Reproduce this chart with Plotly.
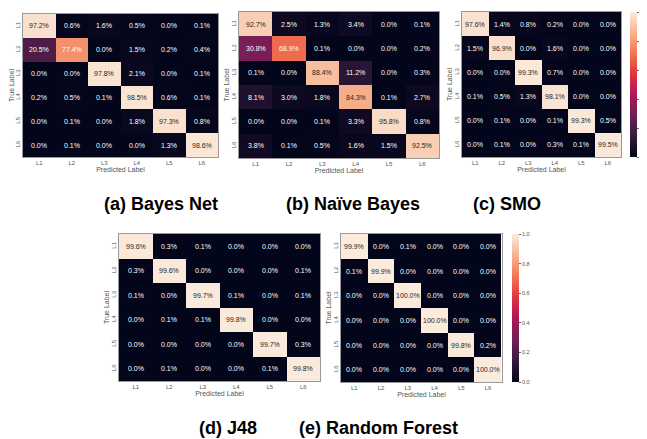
import plotly.graph_objects as go

labels = ["L1", "L2", "L3", "L4", "L5", "L6"]

bayes_net = [
    [97.2, 0.6, 1.6, 0.5, 0.0, 0.1],
    [20.5, 77.4, 0.0, 1.5, 0.2, 0.4],
    [0.0, 0.0, 97.8, 2.1, 0.0, 0.1],
    [0.2, 0.5, 0.1, 98.5, 0.6, 0.1],
    [0.0, 0.1, 0.0, 1.8, 97.3, 0.8],
    [0.0, 0.1, 0.0, 0.0, 1.3, 98.6],
]
naive_bayes = [
    [92.7, 2.5, 1.3, 3.4, 0.0, 0.1],
    [30.8, 68.9, 0.1, 0.0, 0.0, 0.2],
    [0.1, 0.0, 88.4, 11.2, 0.0, 0.3],
    [8.1, 3.0, 1.8, 84.3, 0.1, 2.7],
    [0.0, 0.0, 0.1, 3.3, 95.8, 0.8],
    [3.8, 0.1, 0.5, 1.6, 1.5, 92.5],
]
smo = [
    [97.6, 1.4, 0.8, 0.2, 0.0, 0.0],
    [1.5, 96.9, 0.0, 1.6, 0.0, 0.0],
    [0.0, 0.0, 99.3, 0.7, 0.0, 0.0],
    [0.1, 0.5, 1.3, 98.1, 0.0, 0.0],
    [0.0, 0.1, 0.0, 0.1, 99.3, 0.5],
    [0.0, 0.1, 0.0, 0.3, 0.1, 99.5],
]
j48 = [
    [99.6, 0.3, 0.1, 0.0, 0.0, 0.0],
    [0.3, 99.6, 0.0, 0.0, 0.0, 0.1],
    [0.1, 0.0, 99.7, 0.1, 0.0, 0.1],
    [0.0, 0.1, 0.1, 99.8, 0.0, 0.0],
    [0.0, 0.0, 0.0, 0.0, 99.7, 0.3],
    [0.0, 0.1, 0.0, 0.0, 0.1, 99.8],
]
random_forest = [
    [99.9, 0.0, 0.1, 0.0, 0.0, 0.0],
    [0.1, 99.9, 0.0, 0.0, 0.0, 0.0],
    [0.0, 0.0, 100.0, 0.0, 0.0, 0.0],
    [0.0, 0.0, 0.0, 100.0, 0.0, 0.0],
    [0.0, 0.0, 0.0, 0.0, 99.8, 0.2],
    [0.0, 0.0, 0.0, 0.0, 0.0, 100.0],
]

captions = ["(a) Bayes Net", "(b) Naïve Bayes", "(c) SMO", "(d) J48", "(e) Random Forest"]
matrices = [bayes_net, naive_bayes, smo, j48, random_forest]
colorbar_ticks = [0, 0.2, 0.4, 0.6, 0.8, 1.0]

rocket_hex = ["#03051a", "#35193e", "#701f57", "#ad1759", "#e13342", "#f37651", "#f6b48f", "#faebdd"]
rocket = [[i / 7, c] for i, c in enumerate(rocket_hex)]

# The page body has an 8px margin: the figure starts at (8, 8) in the window.
OFF = 8
W, H = 647 - OFF, 439 - OFF
boxes = [
    (23, 218, 14, 157),
    (239, 439, 12, 158),
    (462, 621, 12, 157),
    (119, 320, 234, 381),
    (341, 502, 234, 382),
]
cbars = {2: (630, 12, 157), 4: (512, 234, 382)}
CB_THICK = 7
caption_x = [161, 353, 507, 228, 378]
caption_y = [204, 204, 204, None, None]


def px(x):
    return (x - OFF) / W


def py(y):
    return 1 - (y - OFF) / H


def hex2rgb(h):
    h = h.lstrip("#")
    return [int(h[i:i + 2], 16) for i in (0, 2, 4)]


def color_at(v):
    v = max(0, min(1, v))
    for i in range(len(rocket) - 1):
        a, ca = rocket[i]
        b, cb = rocket[i + 1]
        if a <= v <= b:
            t = (v - a) / (b - a)
            ra, rb = hex2rgb(ca), hex2rgb(cb)
            return [ra[k] + (rb[k] - ra[k]) * t for k in range(3)]
    return hex2rgb(rocket[-1][1])


def lum(rgb):
    out = []
    for c in rgb:
        c = c / 255
        out.append(c / 12.92 if c <= 0.03928 else ((c + 0.055) / 1.055) ** 2.4)
    return 0.2126 * out[0] + 0.7152 * out[1] + 0.0722 * out[2]


fig = go.Figure()
annotations = []
layout = {}
font_family = "Liberation Sans, Arial, sans-serif"

for idx, (mat, box) in enumerate(zip(matrices, boxes)):
    n = idx + 1
    xa = "x" if n == 1 else f"x{n}"
    ya = "y" if n == 1 else f"y{n}"
    xname = "xaxis" if n == 1 else f"xaxis{n}"
    yname = "yaxis" if n == 1 else f"yaxis{n}"
    z = [[v / 100 for v in row] for row in mat]
    tr = dict(
        z=z, x=labels, y=labels, xaxis=xa, yaxis=ya,
        colorscale=rocket, zmin=0, zmax=1, hoverinfo="skip",
        showscale=idx in cbars,
    )
    if idx in cbars:
        cx, cy0, cy1 = cbars[idx]
        tr["colorbar"] = dict(
            x=px(cx), xanchor="left", xref="paper",
            y=(py(cy0) + py(cy1)) / 2, yanchor="middle",
            len=py(cy0) - py(cy1), lenmode="fraction",
            thickness=CB_THICK, outlinewidth=0, xpad=0, ypad=0,
            tickvals=colorbar_ticks, showticklabels=False,
            ticks="outside", ticklen=2, tickcolor="#666",
        )
        for t in colorbar_ticks:
            yy = cy1 - t * (cy1 - cy0)
            annotations.append(dict(
                x=px(cx + CB_THICK + 2), y=py(yy), xref="paper", yref="paper",
                text=f"{t:.1f}", showarrow=False, xanchor="left", yanchor="middle",
                borderpad=0, font=dict(size=5.5, color="#555", family=font_family),
            ))
    fig.add_trace(go.Heatmap(**tr))
    x0, x1, y0, y1 = box
    layout[xname] = dict(
        domain=[px(x0), px(x1)], anchor=ya, showgrid=False, zeroline=False,
        tickfont=dict(size=6, color="#555", family=font_family), ticks="",
        title=dict(text="Predicted Label", font=dict(size=7, color="#555", family=font_family), standoff=0),
        showline=True, mirror=True, linecolor="#999", linewidth=1,
    )
    layout[yname] = dict(
        domain=[py(y1), py(y0)], anchor=xa, showgrid=False, zeroline=False,
        autorange="reversed", tickangle=-90,
        tickfont=dict(size=6, color="#555", family=font_family), ticks="",
        title=dict(text="True Label", font=dict(size=7, color="#555", family=font_family), standoff=0),
        showline=True, mirror=True, linecolor="#999", linewidth=1,
    )
    for r, row in enumerate(mat):
        for c, v in enumerate(row):
            col = color_at(v / 100)
            tc = "#262626" if lum(col) > 0.408 else "#ffffff"
            annotations.append(dict(
                x=labels[c], y=labels[r], xref=xa, yref=ya,
                text=f"{v:.1f}%", showarrow=False,
                font=dict(size=7, color=tc, family=font_family),
            ))
    cap = dict(
        x=px(caption_x[idx]), xref="paper", yref="paper",
        text=f"<b>{captions[idx]}</b>", showarrow=False,
        xanchor="center", borderpad=0,
        font=dict(size=18, color="#000", family=font_family),
    )
    if caption_y[idx] is None:
        cap.update(y=0, yanchor="bottom")
    else:
        cap.update(y=py(caption_y[idx]), yanchor="middle")
    annotations.append(cap)

fig.update_layout(
    width=W, height=H, margin=dict(l=0, r=0, t=0, b=0),
    paper_bgcolor="white", plot_bgcolor="white",
    annotations=annotations, showlegend=False, **layout,
)
fig.write_html("out.html")
